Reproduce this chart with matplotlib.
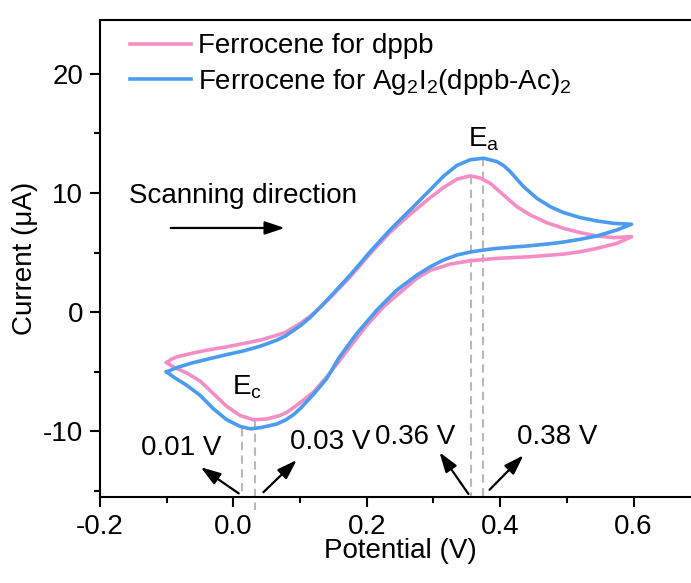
import matplotlib
matplotlib.use("Agg")
import matplotlib.pyplot as plt
from matplotlib.ticker import MultipleLocator, FormatStrFormatter

plt.rcParams['font.family'] = ['Liberation Sans', 'DejaVu Sans']
plt.rcParams['mathtext.fontset'] = 'custom'
plt.rcParams['mathtext.rm'] = 'Liberation Sans'
plt.rcParams['mathtext.it'] = 'Liberation Sans:italic'
plt.rcParams['axes.unicode_minus'] = False

# ---- data ----
# Ferrocene for dppb: forward scan (-0.1 -> 0.6), then reverse (0.6 -> -0.1)
pink_fwd_v = [-0.100, -0.093, -0.085, -0.060, -0.035, -0.010, 0.015, 0.040, 0.065, 0.078,
              0.100, 0.115, 0.130, 0.145, 0.175, 0.205, 0.235, 0.265, 0.280, 0.295,
              0.315, 0.335, 0.355, 0.370, 0.385, 0.405, 0.425, 0.445, 0.470, 0.495,
              0.520, 0.545, 0.570, 0.597]
pink_fwd_i = [-4.23, -3.95, -3.75, -3.42, -3.14, -2.91, -2.63, -2.35, -1.93, -1.70,
              -0.95, -0.35, 0.40, 1.20, 2.95, 4.90, 6.70, 8.20, 8.90, 9.60,
              10.45, 11.15, 11.43, 11.25, 10.81, 9.83, 8.85, 8.15, 7.50, 7.03,
              6.67, 6.39, 6.25, 6.33]
pink_rev_v = [0.597, 0.575, 0.545, 0.520, 0.495, 0.445, 0.395, 0.355, 0.325, 0.295,
              0.275, 0.250, 0.225, 0.200, 0.175, 0.158, 0.140, 0.120, 0.100, 0.090,
              0.080, 0.070, 0.050, 0.030, 0.010, -0.010, -0.030, -0.050, -0.070, -0.090,
              -0.100]
pink_rev_i = [6.33, 5.77, 5.35, 5.07, 4.87, 4.65, 4.51, 4.31, 4.03, 3.50,
              2.83, 1.65, 0.45, -1.10, -2.90, -4.15, -5.43, -6.70, -7.60, -8.02,
              -8.40, -8.66, -8.96, -9.02, -8.66, -7.90, -6.83, -5.77, -5.10, -4.60,
              -4.23]

# Ferrocene for Ag2I2(dppb-Ac)2
blue_fwd_v = [-0.100, -0.085, -0.060, -0.035, -0.010, 0.015, 0.040, 0.065, 0.078, 0.100,
              0.115, 0.130, 0.145, 0.175, 0.205, 0.235, 0.265, 0.280, 0.295, 0.315,
              0.335, 0.355, 0.375, 0.395, 0.405, 0.415, 0.435, 0.455, 0.475, 0.495,
              0.520, 0.545, 0.570, 0.597]
blue_fwd_i = [-5.01, -4.65, -4.23, -3.89, -3.56, -3.25, -2.86, -2.35, -2.00, -1.15,
              -0.45, 0.40, 1.29, 3.10, 5.07, 6.90, 8.57, 9.41, 10.25, 11.40,
              12.30, 12.78, 12.91, 12.63, 12.30, 11.79, 10.53, 9.55, 8.85, 8.35,
              7.93, 7.65, 7.45, 7.37]
blue_rev_v = [0.597, 0.575, 0.545, 0.520, 0.495, 0.470, 0.445, 0.420, 0.395, 0.375,
              0.355, 0.335, 0.315, 0.295, 0.275, 0.245, 0.215, 0.185, 0.158, 0.140,
              0.120, 0.100, 0.090, 0.078, 0.065, 0.040, 0.025, 0.010, -0.010, -0.030,
              -0.050, -0.070, -0.090, -0.100]
blue_rev_i = [7.37, 6.89, 6.39, 6.11, 5.88, 5.71, 5.57, 5.46, 5.35, 5.21,
              5.04, 4.79, 4.37, 3.80, 3.10, 1.85, 0.17, -1.79, -3.85, -5.57,
              -6.90, -8.10, -8.60, -9.05, -9.38, -9.69, -9.78, -9.58, -9.02, -8.10,
              -6.97, -6.13, -5.43, -5.01]

labels = ['Ferrocene for dppb', 'Ferrocene for Ag$_2$I$_2$(dppb-Ac)$_2$']
peak_v = {'Ea_pink': 0.357, 'Ea_blue': 0.375, 'Ec_blue': 0.013, 'Ec_pink': 0.033}
peak_i = {'Ea_pink': 11.43, 'Ea_blue': 12.91, 'Ec_blue': -9.7, 'Ec_pink': -9.02}
peak_text = ['0.01 V', '0.03 V', '0.36 V', '0.38 V']

PINK = '#F58EC4'
BLUE = '#4B9BEE'
GRAY = '#B9B9B9'

fig = plt.figure(figsize=(6.91, 5.83), dpi=100)
ax = fig.add_axes([100/691, 1-497/583, 600.25/691, 477/583])
ax.set_xlim(-0.2, 0.7)
ax.set_ylim(-15.5, 24.5)

ax.plot(pink_fwd_v + pink_rev_v, pink_fwd_i + pink_rev_i, color=PINK, lw=2.6,
        label=labels[0], solid_joinstyle='round', zorder=3)
ax.plot(blue_fwd_v + blue_rev_v, blue_fwd_i + blue_rev_i, color=BLUE, lw=2.6,
        label=labels[1], solid_joinstyle='round', zorder=4)

# dashed peak markers
dash = (0, (4, 2.6))
for key in ['Ea_pink', 'Ea_blue', 'Ec_blue']:
    ax.plot([peak_v[key], peak_v[key]], [peak_i[key], -15.5], color=GRAY, lw=1.5,
            ls=dash, zorder=2)
ax.plot([peak_v['Ec_pink'], peak_v['Ec_pink']], [peak_i['Ec_pink'], -16.6], color=GRAY,
        lw=1.5, ls=dash, zorder=2, clip_on=False)

fs = 20
ax.text(0.375, 14.5, r'E$_\mathrm{a}$', fontsize=fs, ha='center', va='center')
ax.text(0.021, -6.3, r'E$_\mathrm{c}$', fontsize=fs, ha='center', va='center')

ax.text(-0.157, 9.75, 'Scanning direction', fontsize=fs, ha='left', va='center')
aprops = dict(arrowstyle='-|>,head_length=0.6,head_width=0.2', color='black', lw=1.6,
              shrinkA=0, shrinkB=0, mutation_scale=20)
ax.annotate('', xy=(0.077, 7.06), xytext=(-0.094, 7.06), arrowprops=aprops)

# peak potential labels with arrows
ax.text(-0.079, -11.4, peak_text[0], fontsize=fs, ha='center', va='center')
ax.annotate('', xy=(-0.049, -13.0), xytext=(0.008, -15.2), arrowprops=aprops)
ax.text(0.145, -10.9, peak_text[1], fontsize=fs, ha='center', va='center')
ax.annotate('', xy=(0.095, -12.4), xytext=(0.045, -15.1), arrowprops=aprops)
ax.text(0.273, -10.5, peak_text[2], fontsize=fs, ha='center', va='center')
ax.annotate('', xy=(0.309, -11.75), xytext=(0.3525, -15.25), arrowprops=aprops)
ax.text(0.485, -10.5, peak_text[3], fontsize=fs, ha='center', va='center')
ax.annotate('', xy=(0.435, -12.0), xytext=(0.384, -14.9), arrowprops=aprops)

# axes styling
for s in ax.spines.values():
    s.set_linewidth(1.5)
ax.xaxis.set_major_locator(MultipleLocator(0.2))
ax.xaxis.set_minor_locator(MultipleLocator(0.1))
ax.yaxis.set_major_locator(MultipleLocator(10))
ax.yaxis.set_minor_locator(MultipleLocator(5))
ax.xaxis.set_major_formatter(FormatStrFormatter('%.1f'))
ax.yaxis.set_major_formatter(FormatStrFormatter('%d'))
ax.tick_params(which='both', direction='out', width=1.5, labelsize=fs,
               top=False, right=False)
ax.tick_params(which='major', length=7, pad=5)
ax.tick_params(which='minor', length=4)
ax.set_xlabel('Potential (V)', fontsize=fs, labelpad=-1)
ax.set_ylabel('Current (μA)', fontsize=fs, labelpad=4)

leg = ax.legend(loc='upper left', bbox_to_anchor=(0.05, 0.972), frameon=False,
                fontsize=fs, handlelength=2.2, handletextpad=0.25, labelspacing=0.28,
                borderpad=0, borderaxespad=0)
for h in leg.get_lines():
    h.set_linewidth(2.6)

fig.savefig('out.png', dpi=100)
